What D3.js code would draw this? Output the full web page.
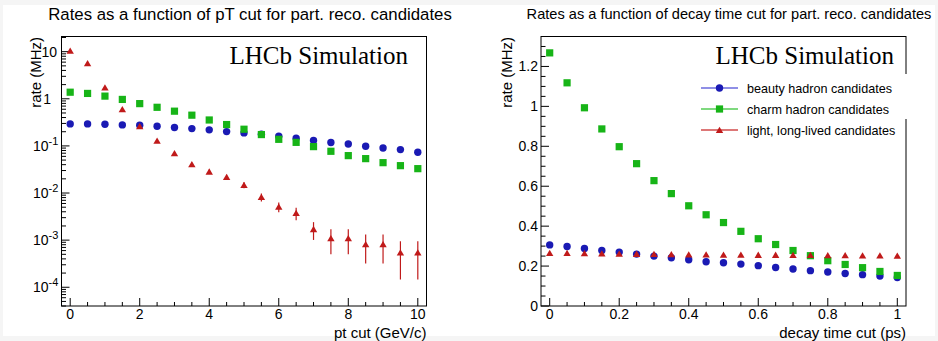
<!DOCTYPE html>
<html>
<head>
<meta charset="utf-8">
<script src="https://cdn.jsdelivr.net/npm/d3@7"></script>
<style>
  body { margin: 0; background: #f5f5f5; }
  text { font-family: "Liberation Sans", Arial, sans-serif; }
  text.serif { font-family: "Liberation Serif", "Times New Roman", serif; }
</style>
</head>
<body>
<svg id="chart" width="938" height="341"></svg>
<script>
// ---- data ----
var ptCuts = [0, 0.5, 1, 1.5, 2, 2.5, 3, 3.5, 4, 4.5, 5, 5.5, 6, 6.5, 7, 7.5, 8, 8.5, 9, 9.5, 10];
var ptBeauty = [0.293, 0.293, 0.288, 0.279, 0.275, 0.262, 0.245, 0.233, 0.219, 0.201, 0.189,
  0.177, 0.160, 0.145, 0.130, 0.118, 0.110, 0.098, 0.0905, 0.0834, 0.0733];
var ptCharm = [1.38, 1.30, 1.14, 0.97, 0.79, 0.66, 0.546, 0.449, 0.355, 0.284, 0.226,
  0.174, 0.138, 0.119, 0.0966, 0.0769, 0.0622, 0.0537, 0.0441, 0.0381, 0.0329];
var ptLight = [10.5, 5.7, 1.74, 0.60, 0.262, 0.128, 0.0697, 0.0407, 0.0284, 0.0219, 0.0148,
  0.0082, 0.0051, 0.00375, 0.00171, 0.0011, 0.0011, 0.00082, 0.00082, 0.000546, 0.000546];
var ptLightErr = [0.05, 0.04, 0.022, 0.013, 0.009, 0.006, 0.0045, 0.0034, 0.0029, 0.0025, 0.0021,
  0.0016, 0.0012, 0.0011, 0.0007, 0.0006, 0.0006, 0.0005, 0.0005, 0.0004, 0.0004];

var tauCuts = [0, 0.05, 0.1, 0.15, 0.2, 0.25, 0.3, 0.35, 0.4, 0.45, 0.5, 0.55, 0.6, 0.65, 0.7,
  0.75, 0.8, 0.85, 0.9, 0.95, 1];
var tauBeauty = [0.306, 0.298, 0.288, 0.278, 0.270, 0.260, 0.250, 0.242, 0.232, 0.222, 0.217,
  0.210, 0.202, 0.193, 0.185, 0.177, 0.170, 0.163, 0.157, 0.150, 0.143];
var tauCharm = [1.268, 1.118, 0.993, 0.887, 0.798, 0.713, 0.628, 0.563, 0.502, 0.457, 0.418,
  0.374, 0.337, 0.308, 0.278, 0.252, 0.227, 0.208, 0.192, 0.173, 0.153];
var tauLight = [0.265, 0.265, 0.264, 0.263, 0.262, 0.261, 0.260, 0.259, 0.258, 0.258, 0.257,
  0.257, 0.256, 0.256, 0.255, 0.255, 0.254, 0.254, 0.253, 0.253, 0.252];

var seriesNames = ["beauty hadron candidates", "charm hadron candidates", "light, long-lived candidates"];
var seriesColors = ["#1a1ab4", "#17b417", "#c01a1a"];
var legendLineColors = ["#6a6ade", "#55cc55", "#d24a4a"];
var seriesShapes = ["circle", "square", "triangle"];

var svg = d3.select("#chart");
svg.append("rect").attr("x", 3).attr("y", 5).attr("width", 932).attr("height", 331).attr("fill", "white");

// draws a marker of the given shape at (x, y)
function marker(g, shape, x, y, color) {
  if (shape === "circle") {
    g.append("circle").attr("cx", x).attr("cy", y).attr("r", 3.7).attr("fill", color);
  } else if (shape === "square") {
    g.append("rect").attr("x", x - 3.6).attr("y", y - 3.6).attr("width", 7.2).attr("height", 7.2).attr("fill", color);
  } else {
    g.append("path").attr("d", "M" + x + "," + (y - 3.3) + "L" + (x + 3.7) + "," + (y + 3) + "L" + (x - 3.7) + "," + (y + 3) + "Z")
      .attr("fill", color);
  }
}

function drawSeries(g, xs, ys, x, y, idx, errs) {
  xs.forEach(function(xv, i) {
    if (errs) {
      var lo = Math.max(ys[i] - errs[i], y.domain()[0]);
      g.append("line").attr("x1", x(xv)).attr("x2", x(xv))
        .attr("y1", y(lo)).attr("y2", y(ys[i] + errs[i]))
        .attr("stroke", seriesColors[idx]).attr("stroke-width", 1.2);
    }
    marker(g, seriesShapes[idx], x(xv), y(ys[i]), seriesColors[idx]);
  });
}

function frame(g, x, y) {
  g.append("rect")
    .attr("x", x.range()[0]).attr("y", y.range()[1])
    .attr("width", x.range()[1] - x.range()[0]).attr("height", y.range()[0] - y.range()[1])
    .attr("fill", "none").attr("stroke", "black").attr("stroke-width", 1);
}

// x ticks pointing up into the frame
function xTicks(g, x, y, major, minor, fmt) {
  var y0 = y.range()[0];
  var d0 = x.domain()[0], d1 = x.domain()[1];
  var first = Math.ceil(d0 / minor - 1e-9);
  for (var k = first; k * minor <= d1 + 1e-9; k++) {
    var v = k * minor;
    var isMajor = Math.abs(v / major - Math.round(v / major)) < 1e-6;
    g.append("line").attr("x1", x(v)).attr("x2", x(v)).attr("y1", y0).attr("y2", y0 - (isMajor ? 8 : 4))
      .attr("stroke", "black").attr("stroke-width", 1);
    if (isMajor) {
      g.append("text").attr("x", x(v)).attr("y", y0 + 13).attr("text-anchor", "middle")
        .attr("font-size", 14).text(fmt(v));
    }
  }
}

// ---------------- left panel ----------------
var left = svg.append("g");
var xL = d3.scaleLinear().domain([-0.25, 10.25]).range([61.5, 426.5]);
var yL = d3.scaleLog().domain([4e-5, 21]).range([306, 36.5]);

left.append("text").attr("x", 250).attr("y", 20).attr("text-anchor", "middle")
  .attr("font-size", 16.8).text("Rates as a function of pT cut for part. reco. candidates");

frame(left, xL, yL);
xTicks(left, xL, yL, 2, 0.5, function(v) { return d3.format("d")(v); });

// log y ticks
for (var e = -5; e <= 1; e++) {
  for (var m = 1; m <= 9; m++) {
    var v = m * Math.pow(10, e);
    if (v < yL.domain()[0] || v > yL.domain()[1]) continue;
    left.append("line").attr("x1", 61.5).attr("x2", 61.5 + (m === 1 ? 8 : 4.5))
      .attr("y1", yL(v)).attr("y2", yL(v)).attr("stroke", "black").attr("stroke-width", 1);
    if (m === 1) {
      var t = left.append("text").attr("y", yL(v) + 5).attr("font-size", 14);
      if (e === 0) t.attr("x", 51).attr("text-anchor", "end").text("1");
      else if (e === 1) t.attr("x", 57).attr("text-anchor", "end").text("10");
      else {
        t.attr("x", 33).attr("text-anchor", "start");
        t.append("tspan").text("10");
        t.append("tspan").attr("dy", -6).attr("font-size", 11).text(String(e));
      }
    }
  }
}

left.append("text").attr("transform", "translate(41,37) rotate(-90)").attr("text-anchor", "end")
  .attr("font-size", 15).text("rate (MHz)");
left.append("text").attr("x", 426.5).attr("y", 337.5).attr("text-anchor", "end")
  .attr("font-size", 15).text("pt cut (GeV/c)");

drawSeries(left, ptCuts, ptBeauty, xL, yL, 0);
drawSeries(left, ptCuts, ptCharm, xL, yL, 1);
drawSeries(left, ptCuts, ptLight, xL, yL, 2, ptLightErr);

left.append("text").attr("class", "serif").attr("x", 408).attr("y", 64).attr("text-anchor", "end")
  .attr("font-size", 25).text("LHCb Simulation");

// ---------------- right panel ----------------
var right = svg.append("g");
var xR = d3.scaleLinear().domain([-0.025, 1.025]).range([541, 906]);
var yR = d3.scaleLinear().domain([0, 1.35]).range([306, 36.5]);

right.append("text").attr("x", 729).attr("y", 19).attr("text-anchor", "middle")
  .attr("font-size", 14.6).text("Rates as a function of decay time cut for part. reco. candidates");

frame(right, xR, yR);
xTicks(right, xR, yR, 0.2, 0.05, function(v) { return d3.format("~g")(+v.toFixed(2)); });

d3.range(0, 1.351, 0.05).forEach(function(v, i) {
  var isMajor = i % 4 === 0;
  right.append("line").attr("x1", 541).attr("x2", 541 + (isMajor ? 8 : 4.5))
    .attr("y1", yR(v)).attr("y2", yR(v)).attr("stroke", "black").attr("stroke-width", 1);
  if (isMajor) {
    right.append("text").attr("x", 538).attr("y", yR(v) + 5).attr("text-anchor", "end")
      .attr("font-size", 14).text(d3.format("~g")(+v.toFixed(2)));
  }
});

right.append("text").attr("transform", "translate(512,37) rotate(-90)").attr("text-anchor", "end")
  .attr("font-size", 15).text("rate (MHz)");
right.append("text").attr("x", 906).attr("y", 337.5).attr("text-anchor", "end")
  .attr("font-size", 15).text("decay time cut (ps)");

drawSeries(right, tauCuts, tauBeauty, xR, yR, 0);
drawSeries(right, tauCuts, tauCharm, xR, yR, 1);
drawSeries(right, tauCuts, tauLight, xR, yR, 2);

right.append("text").attr("class", "serif").attr("x", 894).attr("y", 64).attr("text-anchor", "end")
  .attr("font-size", 25).text("LHCb Simulation");

// legend (its white box hides part of the frame)
var legend = right.append("g");
legend.append("rect").attr("x", 690).attr("y", 74).attr("width", 218).attr("height", 45).attr("fill", "white");
seriesNames.forEach(function(name, i) {
  var ly = 88 + i * 21;
  legend.append("line").attr("x1", 701).attr("x2", 738).attr("y1", ly).attr("y2", ly)
    .attr("stroke", legendLineColors[i]).attr("stroke-width", 1.5);
  marker(legend, seriesShapes[i], 719.5, ly, seriesColors[i]);
  legend.append("text").attr("x", 747).attr("y", ly + 4.5).attr("font-size", 12.6).text(name);
});
</script>
</body>
</html>
